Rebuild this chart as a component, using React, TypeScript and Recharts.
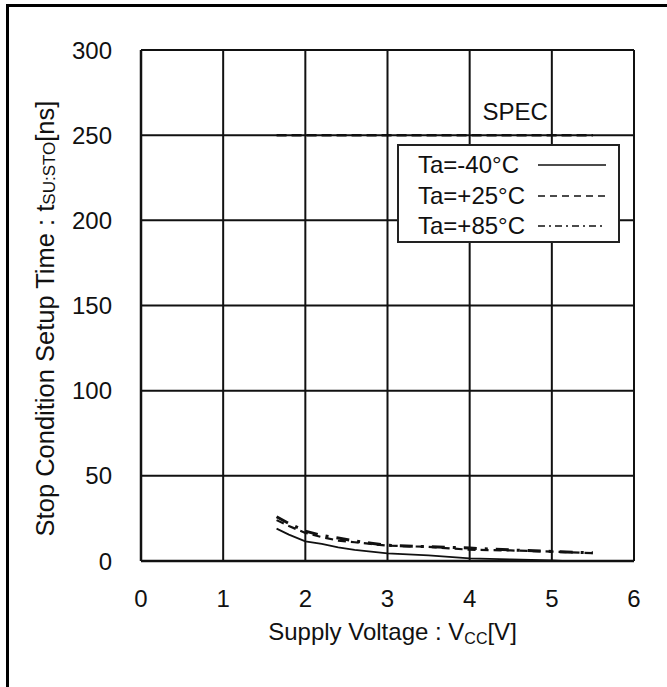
import React from "react";
import {
  CartesianGrid,
  Label,
  Line,
  LineChart,
  ReferenceLine,
  XAxis,
  YAxis,
} from "recharts";

// supply voltage [V]
const voltage = [1.65, 1.8, 2.0, 2.2, 2.4, 2.6, 2.8, 3.0, 3.5, 4.0, 4.5, 5.0, 5.5];
// tSU:STO [ns] per temperature
const tMinus40 = [19, 15.5, 11.5, 10, 8, 6.5, 5.5, 4.5, 3.3, 1.6, 0.9, 0.4, -0.8];
const tPlus25 = [24, 20.5, 16.5, 14, 12, 11, 10, 9, 8.3, 6.6, 6.2, 5.5, 4.6];
const tPlus85 = [26, 22, 17.5, 15, 13.5, 11.8, 10.4, 9.2, 8.4, 7.6, 6.5, 5.6, 4.8];

const specValue = 250;
const specRange = [1.65, 5.5];

const xTicks = [0, 1, 2, 3, 4, 5, 6];
const yTicks = [0, 50, 100, 150, 200, 250, 300];

const series = [
  { key: "m40", name: "Ta=-40°C", dash: undefined, width: 1.8 },
  { key: "p25", name: "Ta=+25°C", dash: "8 5", width: 2.2 },
  { key: "p85", name: "Ta=+85°C", dash: "13 8 3 8", width: 3 },
];

const data = voltage.map((v, i) => ({
  v,
  m40: tMinus40[i],
  p25: tPlus25[i],
  p85: tPlus85[i],
}));

const FONT = '"Liberation Sans", Arial, sans-serif';

const legendDash: Record<string, string | undefined> = {
  m40: undefined,
  p25: "7 5",
  p85: "7 4 2 4",
};

function LegendBox() {
  return (
    <div
      style={{
        position: "absolute",
        left: 397,
        top: 144,
        width: 219,
        height: 95,
        border: "2px solid #222",
        background: "#fff",
        fontFamily: FONT,
        fontSize: 24,
        color: "#111",
      }}
    >
      {series.map((s, i) => (
        <div
          key={s.key}
          style={{
            position: "absolute",
            left: 19,
            top: 4 + i * 30.5,
            height: 30,
            display: "flex",
            alignItems: "center",
          }}
        >
          <span style={{ width: 120, lineHeight: "30px", whiteSpace: "nowrap" }}>{s.name}</span>
          <svg width={70} height={10}>
            <line
              x1={0}
              y1={5}
              x2={68}
              y2={5}
              stroke="#111"
              strokeWidth={1.5}
              strokeDasharray={legendDash[s.key]}
            />
          </svg>
        </div>
      ))}
    </div>
  );
}

function XTitle({ viewBox }: any) {
  const cx = viewBox.x + viewBox.width / 2;
  return (
    <text x={cx + 5} y={640} textAnchor="middle" fontFamily={FONT} fontSize={24} fill="#111">
      <tspan>Supply Voltage : V</tspan>
      <tspan fontSize={16} dy={4}>CC</tspan>
      <tspan dy={-4}>[V]</tspan>
    </text>
  );
}

function YTitle({ viewBox }: any) {
  const cy = viewBox.y + viewBox.height / 2 + 13;
  return (
    <text
      x={45}
      y={cy}
      transform={`rotate(-90, 45, ${cy})`}
      textAnchor="middle"
      dominantBaseline="central"
      fontFamily={FONT}
      fontSize={25.5}
      fill="#111"
    >
      <tspan>Stop Condition Setup Time : t</tspan>
      <tspan fontSize={17} dy={4}>SU:STO</tspan>
      <tspan dy={-4}>[ns]</tspan>
    </text>
  );
}

function SpecLabel({ viewBox }: any) {
  return (
    <text
      x={viewBox.x + viewBox.width - 45}
      y={viewBox.y - 15}
      textAnchor="end"
      fontFamily={FONT}
      fontSize={24}
      fill="#111"
    >
      SPEC
    </text>
  );
}

export default function App() {
  return (
    <div
      style={{
        position: "fixed",
        left: 0,
        top: 0,
        width: 667,
        height: 687,
        background: "#fff",
      }}
    >
      <div
        style={{
          position: "absolute",
          left: 6,
          top: 4,
          width: 700,
          height: 700,
          borderLeft: "3px solid #000",
          borderTop: "3px solid #000",
        }}
      />
      <div style={{ position: "absolute", left: 0, top: 0 }}>
        <LineChart
          width={667}
          height={687}
          data={data}
          margin={{ top: 50, right: 33, bottom: 86, left: 81 }}
        >
          <CartesianGrid stroke="#111" strokeWidth={2} />
          <XAxis
            dataKey="v"
            type="number"
            domain={[0, 6]}
            ticks={xTicks}
            height={40}
            tickSize={0}
            tickMargin={29}
            axisLine={{ stroke: "#111", strokeWidth: 2.5 }}
            tick={{ fill: "#111", fontSize: 24, fontFamily: FONT }}
          >
            <Label content={<XTitle />} />
          </XAxis>
          <YAxis
            type="number"
            domain={[0, 300]}
            ticks={yTicks}
            allowDataOverflow
            width={60}
            tickSize={0}
            tickMargin={29}
            axisLine={{ stroke: "#111", strokeWidth: 2.5 }}
            tick={{ fill: "#111", fontSize: 24, fontFamily: FONT }}
          >
            <Label content={<YTitle />} />
          </YAxis>
          <ReferenceLine
            segment={[
              { x: specRange[0], y: specValue },
              { x: specRange[1], y: specValue },
            ]}
            stroke="#111"
            strokeWidth={2.5}
            strokeDasharray="10 5"
            label={<SpecLabel />}
          />
          {series.map((s) => (
            <Line
              key={s.key}
              dataKey={s.key}
              name={s.name}
              type="linear"
              stroke="#111"
              strokeWidth={s.width}
              strokeDasharray={s.dash}
              dot={false}
              isAnimationActive={false}
            />
          ))}
        </LineChart>
      </div>
      <LegendBox />
    </div>
  );
}
